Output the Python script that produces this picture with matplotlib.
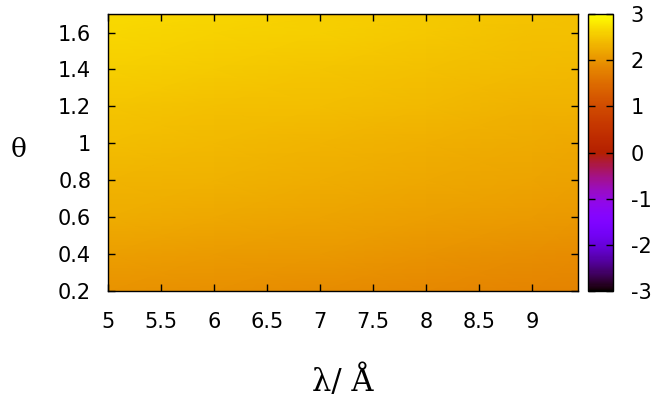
import matplotlib

matplotlib.use("Agg")
import matplotlib.pyplot as plt
import numpy as np

# Grid (smooth estimate of the noisy field)
lambda_values = [5.0, 6.0, 7.0, 8.0, 9.0, 9.43]
theta_values = [0.2, 0.4, 0.6, 0.8, 1.0, 1.2, 1.4, 1.6, 1.69, 1.70]
field_rows = [
    [1.98, 1.95, 1.92, 1.87, 1.82, 1.80],
    [2.12, 2.08, 2.04, 1.99, 1.94, 1.92],
    [2.25, 2.21, 2.17, 2.12, 2.07, 2.05],
    [2.34, 2.30, 2.26, 2.21, 2.16, 2.14],
    [2.42, 2.38, 2.34, 2.29, 2.24, 2.22],
    [2.50, 2.46, 2.42, 2.37, 2.32, 2.30],
    [2.58, 2.54, 2.50, 2.45, 2.40, 2.38],
    [2.66, 2.62, 2.58, 2.52, 2.46, 2.44],
    [2.68, 2.64, 2.60, 2.54, 2.48, 2.46],
    [2.10, 2.10, 2.10, 2.10, 2.10, 2.10],
]

x_ticks = [5, 5.5, 6, 6.5, 7, 7.5, 8, 8.5, 9]
y_ticks = [0.2, 0.4, 0.6, 0.8, 1.0, 1.2, 1.4, 1.6]
cb_ticks = [-3, -2, -1, 0, 1, 2, 3]

plt.rcParams["font.family"] = ["DejaVu Sans"]
serif = ["DejaVu Serif"]

fig = plt.figure(figsize=(6.54, 4.03), dpi=100)
ax = fig.add_axes([0.165, 0.278, 0.719, 0.687])
cax = fig.add_axes([0.899, 0.278, 0.038, 0.687])

grid_x, grid_y = np.meshgrid(lambda_values, theta_values)
mesh = ax.pcolormesh(
    grid_x, grid_y, np.array(field_rows), cmap="gnuplot", vmin=-3, vmax=3, shading="gouraud"
)

ax.set_xlim(5, 9.43)
ax.set_ylim(0.2, 1.7)
ax.set_xticks(x_ticks)
ax.set_xticklabels(["5", "5.5", "6", "6.5", "7", "7.5", "8", "8.5", "9"])
ax.set_yticks(y_ticks)
ax.set_yticklabels(["0.2", "0.4", "0.6", "0.8", "1", "1.2", "1.4", "1.6"])
ax.tick_params(direction="in", length=5, width=1.0, top=True, right=True, labelsize=15)
ax.tick_params(axis="x", pad=15)
ax.tick_params(axis="y", pad=12)
for spine in ax.spines.values():
    spine.set_linewidth(1.0)

ax.set_xlabel("λ/ Å", family=serif, fontsize=22, labelpad=24)
ax.set_ylabel("θ", family=serif, fontsize=19, rotation=0, va="center", ha="center")
ax.yaxis.set_label_coords(-0.19, 0.51)

cbar = fig.colorbar(mesh, cax=cax, ticks=cb_ticks)
cbar.outline.set_linewidth(1.0)
cax.tick_params(direction="in", length=5, width=1.0, left=True, right=True, labelsize=15, pad=13)
cax.set_yticklabels(["-3", "-2", "-1", "0", "1", "2", "3"])

fig.savefig("out.png", dpi=100)
